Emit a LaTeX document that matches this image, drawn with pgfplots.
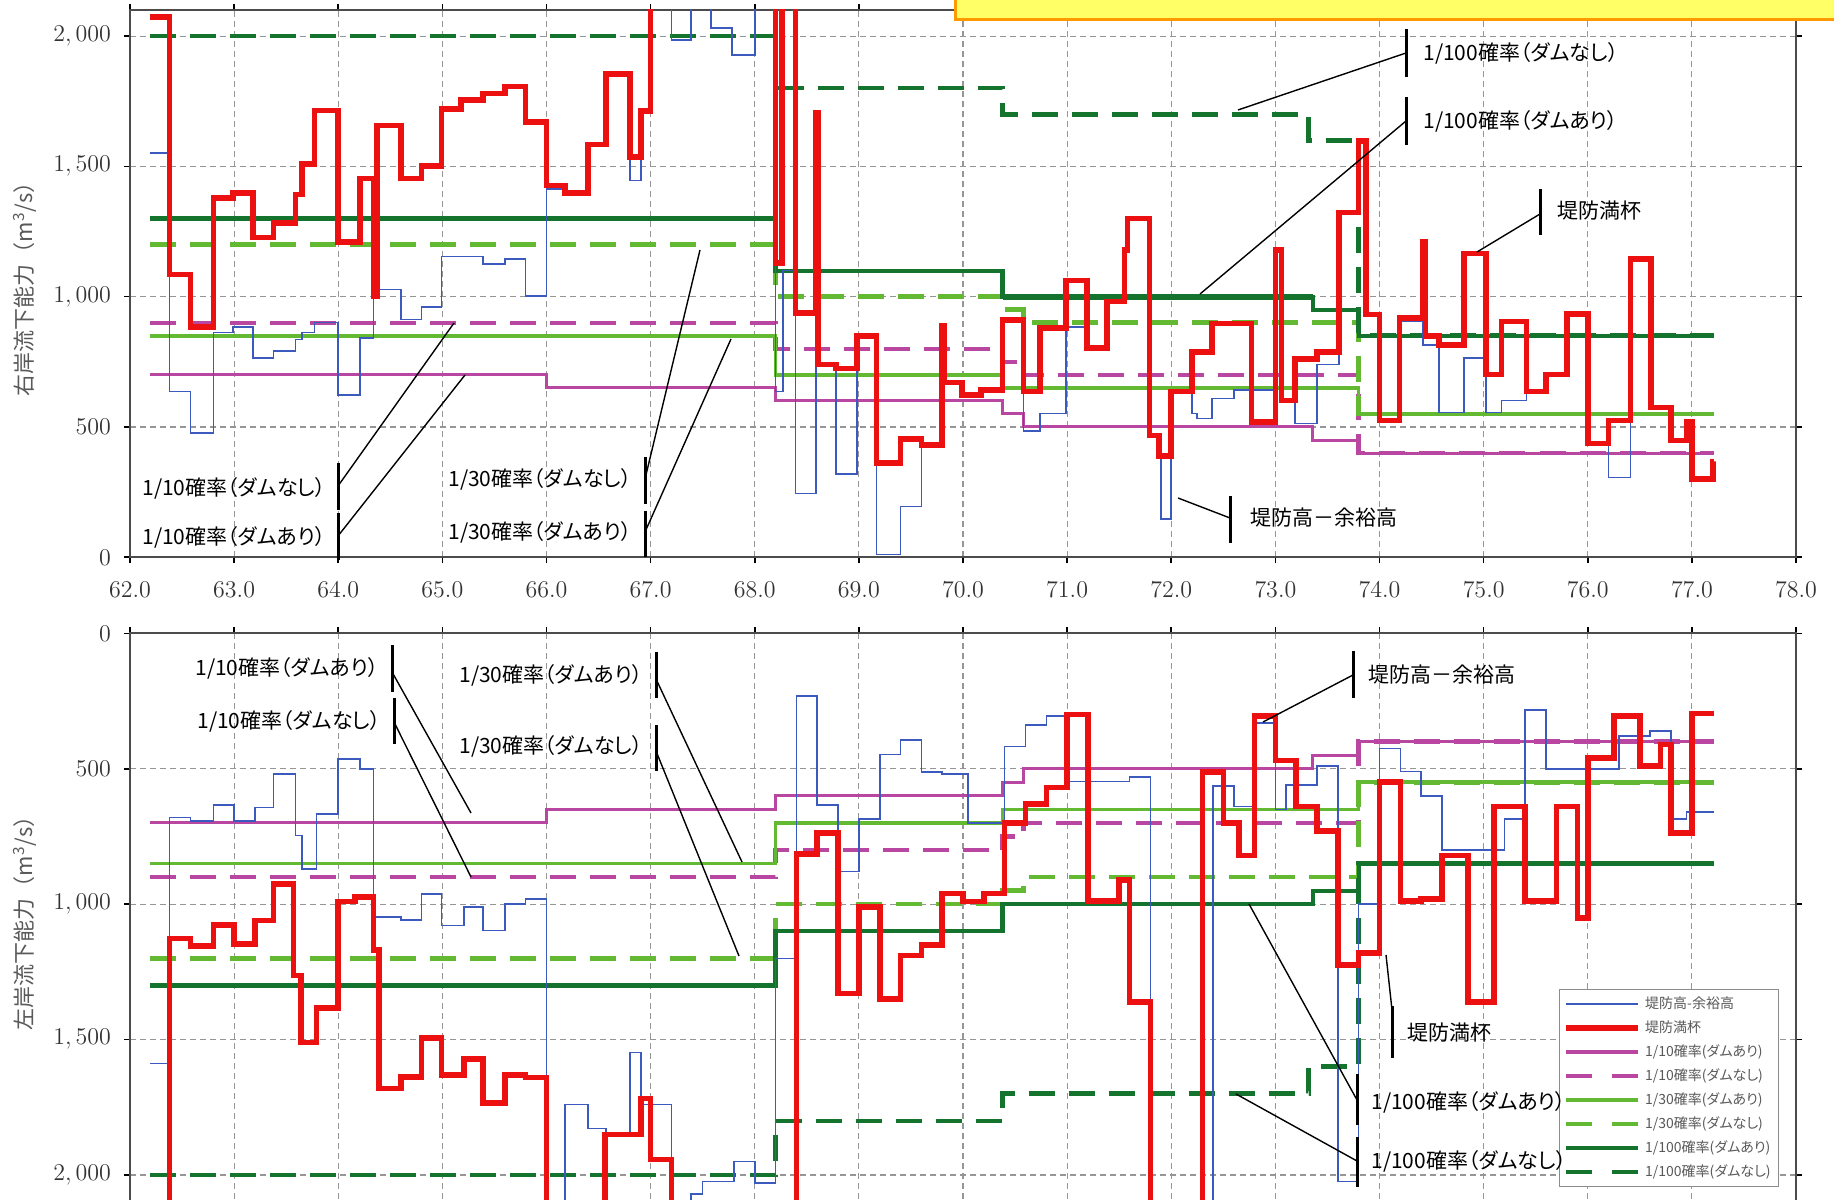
\documentclass[border=0pt]{standalone}
\usepackage{pgfplots}
\usepackage{pgfplotstable}
\pgfplotsset{compat=1.18}
\usepackage{fontspec}
\newfontfamily\jp[RawFeature=+palt]{Noto Sans CJK JP}
\newfontfamily\jpw{Noto Sans CJK JP}

\definecolor{cBlue}{RGB}{60,90,190}
\definecolor{cRed}{RGB}{236,16,16}
\definecolor{cMag}{RGB}{185,70,160}
\definecolor{cLime}{RGB}{100,185,50}
\definecolor{cDark}{RGB}{20,115,45}
\definecolor{cGrid}{RGB}{150,150,150}

% ---- design discharge lines (same for both banks) ----
\pgfplotstableread{
km v
62.19 700
66.00 650
68.20 600
70.38 550
70.58 500
73.36 450
73.80 400
77.21 400
}\mTenA
\pgfplotstableread{
km v
62.19 900
68.20 800
70.38 750
70.58 700
73.80 400
77.21 400
}\mTenN
\pgfplotstableread{
km v
62.19 850
68.20 700
70.38 650
73.80 550
77.21 550
}\lThirtyA
\pgfplotstableread{
km v
62.19 1200
68.20 1000
70.38 950
70.58 900
73.80 550
77.21 550
}\lThirtyN
\pgfplotstableread{
km v
62.19 1300
68.20 1100
70.38 1000
73.36 950
73.80 850
77.21 850
}\dHundA
\pgfplotstableread{
km v
62.19 2000
68.20 1800
70.38 1700
73.32 1600
73.80 850
77.21 850
}\dHundN

% ---- right bank ----
\pgfplotstableread{
km v
62.19 1552
62.38 636
62.58 478
62.80 863
62.99 883
63.18 764
63.38 791
63.59 835
63.65 863
63.77 901
64.00 622
64.21 842
64.34 1027
64.60 913
64.80 961
64.99 1154
65.39 1126
65.60 1144
65.80 1003
66.00 1412
66.18 1398
66.40 1584
66.57 1854
66.80 1446
66.91 1712
67.00 2400
67.20 1986
67.39 2400
67.58 2030
67.78 1927
68.00 2400
68.20 636
68.27 1100
68.39 245
68.59 739
68.78 320
68.98 849
69.17 11
69.40 195
69.60 437
69.81 670
69.99 622
70.17 643
70.38 911
70.58 485
70.74 551
70.99 883
71.19 802
71.38 982
71.56 1179
71.58 1300
71.79 467
71.90 147
72.00 636
72.20 551
72.25 533
72.39 610
72.60 641
73.00 1179
73.06 602
73.19 513
73.40 740
73.61 1323
73.80 1598
73.87 932
74.00 525
74.19 904
74.42 815
74.57 555
74.81 764
75.02 555
75.17 602
75.41 636
75.60 702
75.80 934
76.00 437
76.20 306
76.41 1144
76.61 574
76.80 448
76.95 519
77.00 300
77.20 368
77.21 368
}\rBlue
\pgfplotstableread{
km v
62.19 2074
62.38 1085
62.58 883
62.80 1378
62.99 1398
63.18 1227
63.38 1282
63.59 1392
63.65 1508
63.77 1714
64.00 1209
64.21 1453
64.34 1000
64.37 1657
64.60 1453
64.80 1501
64.99 1721
65.18 1755
65.39 1780
65.60 1806
65.80 1670
66.00 1426
66.18 1398
66.40 1584
66.57 1854
66.80 1536
66.91 1712
67.00 2400
68.20 1130
68.26 2400
68.39 938
68.59 1707
68.61 739
68.78 725
68.98 849
69.17 361
69.40 453
69.60 432
69.80 890
69.82 670
69.99 622
70.17 643
70.38 911
70.58 636
70.74 879
70.99 1062
71.19 802
71.38 982
71.55 1179
71.58 1300
71.79 467
71.88 389
72.00 636
72.20 787
72.39 897
72.77 519
73.00 1179
73.06 602
73.19 760
73.40 787
73.61 1323
73.80 1598
73.87 932
74.00 525
74.19 918
74.42 1209
74.44 849
74.57 815
74.81 1165
75.02 702
75.17 904
75.41 636
75.60 702
75.80 934
76.00 437
76.20 525
76.41 1144
76.61 574
76.80 448
76.95 519
77.00 300
77.20 368
77.21 368
}\rRed

% ---- left bank ----
\pgfplotstableread{
km v
62.19 1588
62.38 680
62.58 692
62.80 633
63.00 692
63.20 643
63.38 520
63.59 746
63.65 870
63.79 667
64.00 465
64.21 500
64.34 1047
64.60 1059
64.80 963
64.99 1079
65.21 1010
65.39 1097
65.60 1000
65.80 981
66.00 2400
66.18 1740
66.40 1828
66.57 1851
66.80 1548
66.91 1740
67.20 2400
67.39 2071
67.50 2024
67.80 1950
68.00 2030
68.20 1200
68.40 231
68.60 634
68.80 880
69.00 685
69.20 447
69.40 395
69.60 512
69.80 520
70.05 700
70.40 418
70.60 339
70.80 305
71.00 547
71.60 530
71.80 2400
72.40 564
72.60 640
72.80 331
73.00 650
73.10 560
73.40 491
73.60 2024
73.80 1000
74.00 426
74.20 510
74.40 600
74.60 800
75.20 685
75.40 283
75.60 500
76.30 380
76.60 360
76.80 685
76.95 660
77.20 660
77.21 660
}\lBlue
\pgfplotstableread{
km v
62.19 2400
62.38 1127
62.58 1154
62.80 1077
63.00 1146
63.20 1061
63.38 926
63.57 1264
63.64 1511
63.79 1384
64.00 990
64.16 973
64.34 1170
64.39 1680
64.60 1637
64.80 1495
64.99 1631
65.21 1571
65.39 1734
65.60 1631
65.80 1640
66.00 2400
66.56 1851
66.91 1717
67.00 1942
67.20 2400
68.40 815
68.60 738
68.80 1330
69.00 1010
69.20 1350
69.40 1190
69.60 1150
69.80 960
70.00 990
70.20 960
70.40 700
70.60 630
70.80 570
71.00 300
71.20 988
71.50 910
71.60 1362
71.80 2400
72.30 512
72.50 700
72.65 820
72.80 305
73.00 470
73.20 640
73.40 730
73.60 1224
73.80 1180
74.00 550
74.20 988
74.40 980
74.60 820
74.85 1362
75.10 640
75.40 988
75.70 640
75.90 1051
76.00 460
76.25 305
76.50 490
76.70 410
76.80 737
77.00 296
77.21 296
}\lRed

\pgfplotsset{
  bankaxis/.style={
    scale only axis, width=833pt,
    xmin=62, xmax=78, ymin=0, ymax=2100,
    xtick={62,...,78}, ytick={0,500,1000,1500,2000},
    grid=major,
    major grid style={cGrid, dash pattern=on 3pt off 2pt, line width=0.55pt},
    axis line style={black!70, line width=0.9pt},
    tick align=outside, major tick length=3pt,
    tick style={black, line width=0.8pt},
    tick label style={font=\fontsize{11.5}{13}\selectfont, text=black!80},
    yticklabel style={xshift=-3pt, /pgf/number format/1000 sep={,}},
    ylabel style={at={(axis description cs:-0.063,0.5)}, anchor=center,
      font=\jpw\fontsize{11}{13}\selectfont, text=black!65},
    every axis plot/.append style={line join=miter},
  },
  sBlue/.style={const plot, cBlue, line width=0.8pt},
  sRed/.style={const plot, cRed, line width=2.8pt},
  sTenA/.style={const plot, cMag, line width=1.5pt},
  sTenN/.style={const plot, cMag, line width=2.2pt, dash pattern=on 13pt off 7pt},
  sThirtyA/.style={const plot, cLime, line width=1.8pt},
  sThirtyN/.style={const plot, cLime, line width=2.3pt, dash pattern=on 13pt off 7pt},
  sHundA/.style={const plot, cDark, line width=2.1pt},
  sHundN/.style={const plot, cDark, line width=2.3pt, dash pattern=on 13pt off 7pt},
}

% text X, text Y, bar X, bar top, bar bottom, leader start Y, leader end X, leader end Y, text
\newcommand\callout[9]{%
  \node[anchor=west, font=\jp\fontsize{10.5}{12}\selectfont, inner sep=0pt] at (#1,#2) {#9};
  \draw[line width=1.5pt] (#3,#4) -- (#3,#5);
  \draw[line width=0.7pt] (#3,#6) -- (#7,#8);
}

\begin{document}
\begin{tikzpicture}
\path[use as bounding box] (0pt,0pt) rectangle (917pt,599.5pt);
\clip (0pt,0pt) rectangle (917pt,599.5pt);

% right bank
\begin{axis}[bankaxis,
  at={(65pt,320.85pt)}, anchor=south west, height=273.65pt,
  xticklabel style={yshift=-6pt, /pgf/number format/fixed,
    /pgf/number format/fixed zerofill, /pgf/number format/precision=1},
  ylabel={右岸流下能力（m\textsuperscript{3}/s）},
]
\addplot[sTenA] table[x=km,y=v] {\mTenA};
\addplot[sTenN] table[x=km,y=v] {\mTenN};
\addplot[sThirtyA] table[x=km,y=v] {\lThirtyA};
\addplot[sThirtyN] table[x=km,y=v] {\lThirtyN};
\addplot[sHundA] table[x=km,y=v] {\dHundA};
\addplot[cDark, line width=3pt] coordinates {(70.38,1000) (73.36,1000)};
\addplot[sHundN] table[x=km,y=v] {\dHundN};
\addplot[sBlue] table[x=km,y=v] {\rBlue};
\addplot[sRed] table[x=km,y=v] {\rRed};
\end{axis}

% left bank
\begin{axis}[bankaxis,
  at={(65pt,282.85pt)}, anchor=north west, height=284.4pt,
  y dir=reverse, xticklabels={},
  ylabel={左岸流下能力（m\textsuperscript{3}/s）},
  legend style={at={(axis description cs:0.8577,0.3747)}, anchor=north west,
    draw=black!45, line width=0.6pt, fill=white,
    font=\jp\fontsize{7}{8}\selectfont, text=black!65,
    inner xsep=2pt, inner ysep=1.5pt, row sep=0.6pt},
  legend cell align=left,
  legend image code/.code={\draw[#1] (0pt,0pt) -- (36pt,0pt);},
]
\addlegendimage{cBlue, line width=0.8pt}\addlegendentry{堤防高-余裕高}
\addlegendimage{cRed, line width=2.8pt}\addlegendentry{堤防満杯}
\addlegendimage{cMag, line width=1.6pt}\addlegendentry{1/10確率(ダムあり)}
\addlegendimage{cMag, line width=1.6pt, dash pattern=on 13pt off 10pt}\addlegendentry{1/10確率(ダムなし)}
\addlegendimage{cLime, line width=1.8pt}\addlegendentry{1/30確率(ダムあり)}
\addlegendimage{cLime, line width=2.2pt, dash pattern=on 13pt off 10pt}\addlegendentry{1/30確率(ダムなし)}
\addlegendimage{cDark, line width=2.3pt}\addlegendentry{1/100確率(ダムあり)}
\addlegendimage{cDark, line width=2pt, dash pattern=on 13pt off 10pt}\addlegendentry{1/100確率(ダムなし)}
\addplot[sTenA, forget plot] table[x=km,y=v] {\mTenA};
\addplot[sTenN, forget plot] table[x=km,y=v] {\mTenN};
\addplot[sThirtyA, forget plot] table[x=km,y=v] {\lThirtyA};
\addplot[sThirtyN, forget plot] table[x=km,y=v] {\lThirtyN};
\addplot[sHundA, forget plot] table[x=km,y=v] {\dHundA};
\addplot[sHundN, forget plot] table[x=km,y=v] {\dHundN};
\addplot[sBlue, forget plot] table[x=km,y=v] {\lBlue};
\addplot[sRed, forget plot] table[x=km,y=v] {\lRed};
\end{axis}

\begin{scope}[x=0.5pt, y=-0.5pt, shift={(0pt,599.5pt)}]
  % banner strip at the top
  \draw[fill={rgb,255:red,255;green,255;blue,102}, draw={rgb,255:red,255;green,153;blue,0},
    line width=1.5pt] (955,-10) rectangle (1860,20);
  % right bank callouts
  \callout{142}{488}{338}{463}{510}{486}{454}{323}{1/10確率（ダムなし）}
  \callout{142}{537}{338}{513}{560}{536}{465}{375}{1/10確率（ダムあり）}
  \callout{448}{479}{645}{457}{504}{479}{700}{250}{1/30確率（ダムなし）}
  \callout{448}{532}{645}{511}{557}{532}{731}{339}{1/30確率（ダムあり）}
  \callout{1423}{53}{1406}{29}{77}{53}{1238}{110}{1/100確率（ダムなし）}
  \callout{1423}{121}{1406}{97}{145}{121}{1200}{294}{1/100確率（ダムあり）}
  \callout{1557}{211}{1540}{189}{235}{214}{1477}{252}{堤防満杯}
  \callout{1250}{518}{1230}{496}{543}{518}{1178}{498}{堤防高－余裕高}
  % left bank callouts
  \callout{195}{668}{392}{645}{692}{672}{471}{813}{1/10確率（ダムあり）}
  \callout{197}{721}{394}{698}{744}{722}{471}{877}{1/10確率（ダムなし）}
  \callout{459}{675}{656}{652}{698}{679}{742}{862}{1/30確率（ダムあり）}
  \callout{459}{746}{656}{725}{771}{751}{739}{956}{1/30確率（ダムなし）}
  \callout{1368}{675}{1353}{651}{698}{675}{1263}{722}{堤防高－余裕高}
  \callout{1407}{1033}{1392}{1006}{1058}{1010}{1386}{955}{堤防満杯}
  \callout{1371}{1102}{1357}{1074}{1125}{1100}{1249}{904}{1/100確率（ダムあり）}
  \callout{1371}{1161}{1357}{1137}{1187}{1161}{1236}{1094}{1/100確率（ダムなし）}
\end{scope}
\end{tikzpicture}
\end{document}
